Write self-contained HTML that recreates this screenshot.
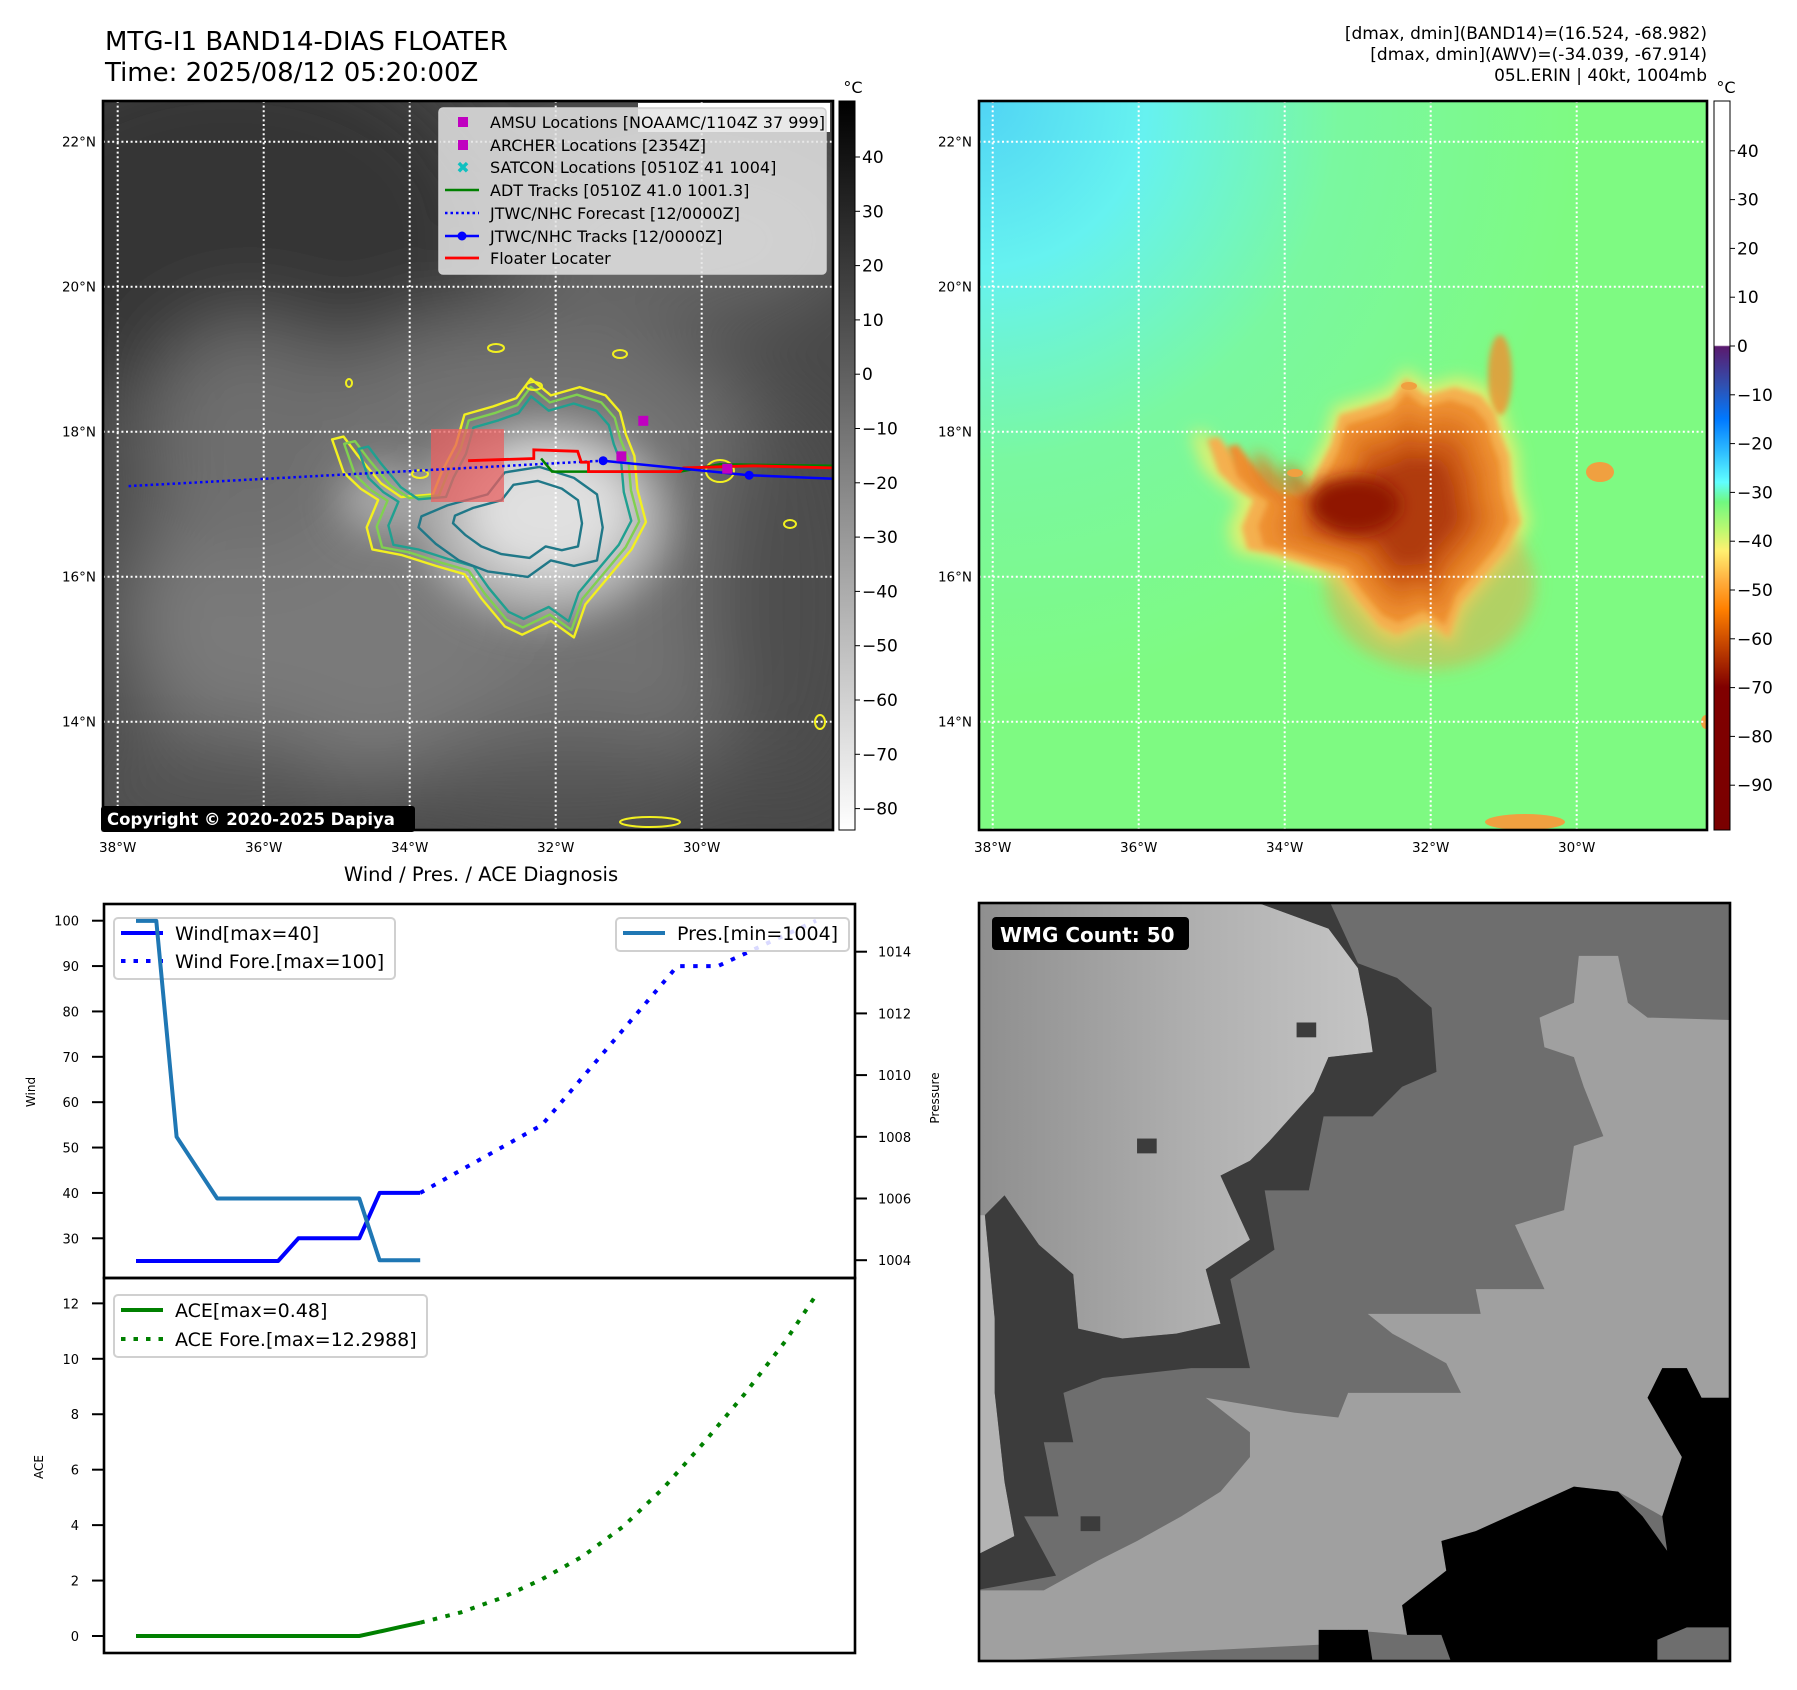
<!DOCTYPE html>
<html><head><meta charset="utf-8"><title>MTG-I1 BAND14 DIAS Floater</title>
<style>
html,body{margin:0;padding:0;background:#fff;}
svg{display:block;font-family:"DejaVu Sans","Liberation Sans",sans-serif;}
</style></head>
<body>
<svg id="fig" xmlns="http://www.w3.org/2000/svg" width="1797" height="1690" viewBox="0 0 1797 1690">
<defs>
  <filter id="b40" x="-50%" y="-50%" width="200%" height="200%"><feGaussianBlur stdDeviation="40"/></filter>
  <filter id="b20" x="-50%" y="-50%" width="200%" height="200%"><feGaussianBlur stdDeviation="20"/></filter>
  <filter id="b8" x="-50%" y="-50%" width="200%" height="200%"><feGaussianBlur stdDeviation="8"/></filter>
  <filter id="b3" x="-50%" y="-50%" width="200%" height="200%"><feGaussianBlur stdDeviation="3"/></filter>
  <clipPath id="clipMap1"><rect x="103" y="101" width="730" height="729"/></clipPath>
  <clipPath id="clipMap2"><rect x="979" y="101" width="728" height="729"/></clipPath>
  <clipPath id="clipWind"><rect x="104" y="904" width="751" height="374"/></clipPath>
  <clipPath id="clipAce"><rect x="104" y="1278" width="751" height="375"/></clipPath>
  <linearGradient id="cb1" x1="0" y1="0" x2="0" y2="1">
    <stop offset="0" stop-color="#000"/><stop offset="1" stop-color="#fff"/>
  </linearGradient>
  <linearGradient id="cb2" x1="0" y1="0" x2="0" y2="1">
    <stop offset="0" stop-color="#fff"/><stop offset="0.335" stop-color="#fff"/>
    <stop offset="0.337" stop-color="#5a1a6e"/><stop offset="0.39" stop-color="#3050b0"/>
    <stop offset="0.436" stop-color="#0078ff"/><stop offset="0.483" stop-color="#30c0ff"/>
    <stop offset="0.523" stop-color="#60ffff"/><stop offset="0.55" stop-color="#70f880"/>
    <stop offset="0.59" stop-color="#c0f870"/><stop offset="0.617" stop-color="#fff070"/>
    <stop offset="0.657" stop-color="#ffb040"/><stop offset="0.697" stop-color="#ff8000"/>
    <stop offset="0.75" stop-color="#c04000"/><stop offset="0.804" stop-color="#800000"/>
    <stop offset="1" stop-color="#7a0000"/>
  </linearGradient>
  <radialGradient id="m2bg" cx="979" cy="101" r="600" gradientUnits="userSpaceOnUse">
    <stop offset="0" stop-color="#50d4f4"/><stop offset="0.28" stop-color="#66f2f0"/>
    <stop offset="0.6" stop-color="#7af8a0"/><stop offset="1" stop-color="#7efa82"/>
  </radialGradient>
  <linearGradient id="wmgLight" x1="0" y1="0" x2="1" y2="0">
    <stop offset="0" stop-color="#8e8e8e"/><stop offset="0.55" stop-color="#b0b0b0"/><stop offset="1" stop-color="#c6c6c6"/>
  </linearGradient>
</defs>

<rect x="0" y="0" width="1797" height="1690" fill="#fff"/>

<text x="105" y="50" font-size="26" fill="#000">MTG-I1 BAND14-DIAS FLOATER</text>
<text x="105" y="81" font-size="26" fill="#000">Time: 2025/08/12 05:20:00Z</text>
<g font-size="17" text-anchor="end" fill="#000">
  <text x="1707" y="39">[dmax, dmin](BAND14)=(16.524, -68.982)</text>
  <text x="1707" y="60">[dmax, dmin](AWV)=(-34.039, -67.914)</text>
  <text x="1707" y="81">05L.ERIN | 40kt, 1004mb</text>
</g>

<!-- MAP 1 -->
<g id="map1" clip-path="url(#clipMap1)">
  <rect x="103" y="101" width="730" height="729" fill="#484848"/>
  <g filter="url(#b40)">
    <ellipse cx="230" cy="230" rx="260" ry="190" fill="#363636"/>
    <ellipse cx="680" cy="240" rx="170" ry="80" fill="#666"/>
    <ellipse cx="520" cy="560" rx="300" ry="250" fill="#727272"/>
    <ellipse cx="320" cy="620" rx="200" ry="170" fill="#7a7a7a"/>
    <ellipse cx="250" cy="440" rx="110" ry="120" fill="#6e6e6e"/>
    <ellipse cx="790" cy="600" rx="80" ry="210" fill="#4e4e4e"/>
    <ellipse cx="200" cy="790" rx="150" ry="60" fill="#525252"/>
    <ellipse cx="560" cy="780" rx="160" ry="50" fill="#565656"/>
  </g>
  <g filter="url(#b20)">
    <ellipse cx="545" cy="520" rx="125" ry="100" fill="#b4b4b4"/>
    <ellipse cx="548" cy="512" rx="80" ry="62" fill="#e0e0e0"/>
    <ellipse cx="380" cy="500" rx="40" ry="35" fill="#a8a8a8"/>
  </g>
  <g id="map1grid"></g>
  <g id="map1contours"></g>
  <rect x="431" y="429" width="73" height="73" fill="#e86060" fill-opacity="0.75"/>
  <g id="map1tracks"></g>
</g>
<rect x="103" y="101" width="730" height="729" fill="none" stroke="#000" stroke-width="2.6"/>
<g id="map1ticks" font-size="13.5" fill="#000"></g>

<rect x="638" y="103" width="192" height="29" fill="#fff"/>
<g>
  <rect x="439" y="108" width="387" height="166" rx="4" fill="#e4e4e4" fill-opacity="0.85" stroke="#cfcfcf" stroke-width="1.5"/>
  <g font-size="16" fill="#000">
    <rect x="458" y="117" width="10" height="10" fill="#c000c0"/>
    <text x="490" y="128">AMSU Locations [NOAAMC/1104Z 37 999]</text>
    <rect x="458" y="140" width="10" height="10" fill="#c000c0"/>
    <text x="490" y="151">ARCHER Locations [2354Z]</text>
    <text x="463" y="173" font-size="16" font-weight="bold" fill="#10c0c0" text-anchor="middle">✖</text>
    <text x="490" y="173">SATCON Locations [0510Z 41 1004]</text>
    <line x1="445" y1="190" x2="479" y2="190" stroke="#008000" stroke-width="2.5"/>
    <text x="490" y="196">ADT Tracks [0510Z 41.0 1001.3]</text>
    <line x1="445" y1="213" x2="479" y2="213" stroke="#0000ff" stroke-width="2.5" stroke-dasharray="2.5 3"/>
    <text x="490" y="219">JTWC/NHC Forecast [12/0000Z]</text>
    <line x1="445" y1="236" x2="479" y2="236" stroke="#0000ff" stroke-width="2.5"/>
    <circle cx="462" cy="236" r="4.5" fill="#0000ff"/>
    <text x="490" y="242">JTWC/NHC Tracks [12/0000Z]</text>
    <line x1="445" y1="258" x2="479" y2="258" stroke="#ff0000" stroke-width="2.8"/>
    <text x="490" y="264">Floater Locater</text>
  </g>
</g>
<g>
  <rect x="101" y="806" width="314" height="26" rx="3" fill="#000"/>
  <text x="107" y="825" font-size="16.5" font-weight="bold" fill="#fff">Copyright © 2020-2025 Dapiya</text>
</g>

<rect x="839" y="101" width="16" height="729" fill="url(#cb1)" stroke="#000" stroke-width="1"/>
<text x="853" y="93" font-size="16" text-anchor="middle">°C</text>
<g id="cb1ticks" font-size="17" fill="#000"></g>

<!-- MAP 2 -->
<g id="map2" clip-path="url(#clipMap2)">
  <rect x="979" y="101" width="728" height="729" fill="url(#m2bg)"/>
  <g id="map2blob"></g>
  <g id="map2grid"></g>
</g>
<rect x="979" y="101" width="728" height="729" fill="none" stroke="#000" stroke-width="2.6"/>
<g id="map2ticks" font-size="13.5" fill="#000"></g>
<rect x="1714" y="101" width="16" height="729" fill="url(#cb2)" stroke="#000" stroke-width="1"/>
<text x="1726" y="93" font-size="16" text-anchor="middle">°C</text>
<g id="cb2ticks" font-size="17" fill="#000"></g>

<text x="481" y="881" font-size="19.5" text-anchor="middle">Wind / Pres. / ACE Diagnosis</text>
<g id="windAxes"></g>
<g id="aceAxes"></g>

<!-- WMG panel -->
<svg x="979" y="903" width="751" height="758" viewBox="8 8 1530 1535" preserveAspectRatio="none">
  <rect x="0" y="0" width="1600" height="1600" fill="#6e6e6e"/>
  <polygon fill="url(#wmgLight)" points="0,0 555,0 720,60 780,140 800,240 830,210 810,310 720,320 690,390 600,490 560,530 500,560 560,690 470,750 500,860 410,880 300,890 210,870 200,760 130,700 60,600 20,640 0,640"/>
  <polygon fill="#b4b4b4" points="0,640 20,640 40,850 40,1000 60,1180 80,1290 0,1330"/>
  <polygon fill="#a0a0a0" points="1230,115 1310,115 1330,210 1370,240 1540,245 1540,1010 1480,1010 1450,950 1400,950 1370,1010 1440,1130 1400,1250 1310,1200 1220,1190 1020,1280 950,1300 960,1360 870,1430 880,1490 760,1480 700,1510 0,1545 0,1400 140,1400 250,1340 330,1300 420,1250 500,1200 560,1130 560,1080 470,1010 650,1040 740,1050 760,1000 990,1000 960,940 850,880 800,840 1030,840 1020,790 1160,790 1100,660 1200,630 1220,500 1280,480 1240,380 1220,320 1160,300 1150,240 1220,210"/>
  <polygon fill="#000" points="950,1300 1020,1280 1220,1190 1310,1200 1360,1250 1410,1320 1400,1250 1440,1130 1370,1010 1400,950 1450,950 1480,1010 1540,1010 1540,1475 1450,1475 1390,1500 1390,1545 970,1545 950,1490 880,1490 870,1430 960,1360"/>
  <polygon fill="#000" points="700,1480 800,1480 810,1545 700,1545"/>
  <polygon fill="#3c3c3c" points="555,0 720,0 780,130 860,160 930,220 940,350 870,380 810,440 710,440 680,590 590,590 610,710 520,770 560,950 440,950 260,970 180,1000 200,1100 140,1100 170,1250 100,1250 165,1370 0,1400 0,1330 80,1290 60,1180 40,1000 40,850 20,640 60,600 130,700 200,760 210,870 300,890 410,880 500,860 470,750 560,690 500,560 560,530 600,490 690,390 720,320 810,310 800,240 780,140 720,60"/>
  <rect x="330" y="485" width="40" height="30" fill="#3c3c3c"/>
  <rect x="655" y="250" width="40" height="30" fill="#3c3c3c"/>
  <rect x="215" y="1250" width="40" height="30" fill="#3c3c3c"/>
</svg>
<rect x="979" y="903" width="751" height="758" fill="none" stroke="#000" stroke-width="2.6"/>
<g>
  <rect x="992" y="917" width="197" height="33" rx="4" fill="#000"/>
  <text x="1000" y="942" font-size="20" font-weight="bold" fill="#fff">WMG Count: 50</text>
</g>
</svg>

<script>
// ===== Chart data (Wind / Pres / ACE) =====
const obsHours = [0, 6, 12, 18, 24, 30, 36, 42, 48, 54, 60, 66, 72, 78, 84];
const windObs = [25, 25, 25, 25, 25, 25, 25, 25, 30, 30, 30, 30, 40, 40, 40];
const presObs = [1015, 1015, 1008, 1007, 1006, 1006, 1006, 1006, 1006, 1006, 1006, 1006, 1004, 1004, 1004];
const windForeHours = [84, 120, 160, 172, 201];
const windFore = [40, 55, 90, 90, 100];
const aceObs = [0, 0, 0, 0, 0, 0, 0, 0, 0, 0, 0, 0, 0.16, 0.32, 0.48];
const aceForeHours = [84, 96, 108, 120, 132, 144, 156, 168, 180, 192, 201];
const aceFore = [0.48, 0.85, 1.37, 2.05, 2.87, 3.95, 5.35, 7.0, 8.75, 10.65, 12.3];
const windTicks = [30, 40, 50, 60, 70, 80, 90, 100];
const presTicks = [1004, 1006, 1008, 1010, 1012, 1014];
const aceTicks = [0, 2, 4, 6, 8, 10, 12];
// ===== Map data =====
const latTicks = [22, 20, 18, 16, 14];
const lonTicks = [38, 36, 34, 32, 30];
const irCbTicks = [40, 30, 20, 10, 0, -10, -20, -30, -40, -50, -60, -70, -80];
const awvCbTicks = [40, 30, 20, 10, 0, -10, -20, -30, -40, -50, -60, -70, -80, -90];
const forecastLon = [37.85, 31.35];
const forecastLat = [17.25, 17.6];
const trackLon = [31.35, 29.35, 28.2];
const trackLat = [17.6, 17.4, 17.35];
const floaterLon = [33.2, 32.3, 32.3, 31.7, 31.65, 31.55, 31.55, 30.3, 30.25, 29.3, 28.2];
const floaterLat = [17.6, 17.63, 17.75, 17.73, 17.58, 17.58, 17.45, 17.45, 17.5, 17.53, 17.5];
const adtLon = [32.2, 32.05, 30.3, 29.75, 28.2];
const adtLat = [17.63, 17.45, 17.45, 17.55, 17.53];
const amsuLon = [30.8];
const amsuLat = [18.15];
const archerLon = [31.1, 29.65];
const archerLat = [17.66, 17.49];

const NS = 'http://www.w3.org/2000/svg';
function mk(tag, attrs, parent) {
  const el = document.createElementNS(NS, tag);
  for (const k in attrs) el.setAttribute(k, attrs[k]);
  parent.appendChild(el);
  return el;
}
function txt(s, attrs, parent) { const t = mk('text', attrs, parent); t.textContent = s; return t; }

const latY = lat => 141.7 + (22 - lat) * 72.5;
const lon1X = lon => 117.7 + (38 - lon) * 73;
const lon2X = lon => 992.7 + (38 - lon) * 73;
function fmtNeg(v) { return v < 0 ? '\u2212' + Math.abs(v) : String(v); }

function drawGrid(g, lonX, x0, x1, pfx) {
  latTicks.forEach(lat => {
    const l = mk('line', {x1: x0, x2: x1, y1: latY(lat), y2: latY(lat), stroke: '#fff', 'stroke-width': 2, 'stroke-dasharray': '2 2.6'}, g);
    
    
  });
  lonTicks.forEach(lon => {
    const l = mk('line', {x1: lonX(lon), x2: lonX(lon), y1: 101, y2: 830, stroke: '#fff', 'stroke-width': 2, 'stroke-dasharray': '2 2.6'}, g);
    
    
  });
}
function drawMapTicks(g, lonX, labelRight, pfx) {
  latTicks.forEach(lat => {
    const t = txt(lat + '°N', {x: labelRight, y: latY(lat) + 5, 'text-anchor': 'end'}, g);
    
    
  });
  lonTicks.forEach(lon => {
    const t = txt(lon + '°W', {x: lonX(lon), y: 852, 'text-anchor': 'middle'}, g);
    
    
  });
}
drawGrid(document.getElementById('map1grid'), lon1X, 103, 833, 'ir');
drawGrid(document.getElementById('map2grid'), lon2X, 979, 1707, 'awv');
drawMapTicks(document.getElementById('map1ticks'), lon1X, 96, 'ir');
drawMapTicks(document.getElementById('map2ticks'), lon2X, 972, 'awv');

const cb1Y = v => 157 + (40 - v) * 5.43;
const cb2Y = v => 346 - v * 4.88;
const cb1 = document.getElementById('cb1ticks');
irCbTicks.forEach(v => {
  mk('line', {x1: 855, x2: 860, y1: cb1Y(v), y2: cb1Y(v), stroke: '#000', 'stroke-width': 1}, cb1);
  const t = txt(fmtNeg(v), {x: 862, y: cb1Y(v) + 6}, cb1);
  
  
});
const cb2 = document.getElementById('cb2ticks');
awvCbTicks.forEach(v => {
  mk('line', {x1: 1730, x2: 1735, y1: cb2Y(v), y2: cb2Y(v), stroke: '#000', 'stroke-width': 1}, cb2);
  const t = txt(fmtNeg(v), {x: 1737, y: cb2Y(v) + 6}, cb2);
  
  
});

const outerShape = [[580,800],[600,860],[630,890],[660,910],[640,960],[650,1000],[700,1010],[760,1030],[810,1045],[840,1090],[880,1140],[910,1155],[960,1130],[1000,1160],[1020,1100],[1060,1050],[1100,1000],[1125,950],[1110,890],[1105,830],[1090,790],[1080,750],[1055,720],[1010,705],[960,720],[925,690],[900,725],[860,740],[810,755],[795,810],[770,860],[755,900],[700,905],[665,880],[625,830],[600,795]];
const innerShape = [[735,940],[780,920],[850,900],[880,860],[940,850],[1000,870],[1040,900],[1050,960],[1040,1020],[1000,1030],[960,1020],[920,1050],[850,1040],[800,1020],[760,990],[730,960]];
const CX = 930, CY = 935;
function shapePts(shape, s, dx) {
  return shape.map(p => {
    const zx = CX + (p[0] - CX) * s, zy = CY + (p[1] - CY) * s;
    return (103 + (zx - 182) * 730 / 1268 + dx).toFixed(1) + ',' + (101 + (zy - 185) * 729 / 1325).toFixed(1);
  }).join(' ');
}
const c1 = document.getElementById('map1contours');
[[outerShape, 1.0, '#f2f020', 'ir-contour-yellow'], [outerShape, 0.94, '#80d050', 'ir-contour-green'], [outerShape, 0.87, '#20a090', 'ir-contour-teal'], [innerShape, 1.0, '#207888', 'ir-contour-darkteal'], [innerShape, 0.7, '#207888', 'ir-contour-core']].forEach(c => {
  const p = mk('polygon', {points: shapePts(c[0], c[1], 0), fill: 'none', stroke: c[2], 'stroke-width': 2.4, 'stroke-linejoin': 'round'}, c1);
  
  
});
[[420,474,8,4],[534,386,8,4],[790,524,6,4],[720,471,14,11],[650,822,30,5],[820,722,5,7],[496,348,8,4],[620,354,7,4],[349,383,3,4]].forEach(b => {
  const e = mk('ellipse', {cx: b[0], cy: b[1], rx: b[2], ry: b[3], fill: 'none', stroke: '#f2f020', 'stroke-width': 2}, c1);
  
  
});

const m2 = document.getElementById('map2blob');
const blobHalo = mk('polygon', {points: shapePts(outerShape, 1.08, 875), fill: '#e0f070', filter: 'url(#b8)'}, m2);


const south = mk('ellipse', {cx: 1430, cy: 585, rx: 105, ry: 85, fill: '#f0a040', 'fill-opacity': 0.45, filter: 'url(#b8)'}, m2);


const north = mk('ellipse', {cx: 1500, cy: 375, rx: 12, ry: 40, fill: '#f09030', 'fill-opacity': 0.8, filter: 'url(#b3)'}, m2);


[[1.0, '#f4b050', 'b3'], [0.9, '#ee9030', 'b3'], [0.78, '#e07820', 'b8'], [0.62, '#cc5a14', 'b8'], [0.45, '#b03a08', 'b8']].forEach((l, i) => {
  const p = mk('polygon', {points: shapePts(outerShape, l[0], 875), fill: l[1], filter: 'url(#' + l[2] + ')'}, m2);
  
  
});
const core2 = mk('ellipse', {cx: 1355, cy: 505, rx: 45, ry: 28, fill: '#901800', filter: 'url(#b8)'}, m2);


[[1295,473,8,4],[1409,386,8,4],[1600,472,14,10],[1525,822,40,8],[1706,722,5,7]].forEach(b => {
  const e = mk('ellipse', {cx: b[0], cy: b[1], rx: b[2], ry: b[3], fill: '#f0a040'}, m2);
  
  
});

const tg = document.getElementById('map1tracks');
function pts(lons, lats) { return lons.map((lo, i) => lon1X(lo).toFixed(1) + ',' + latY(lats[i]).toFixed(1)).join(' '); }
const fc = mk('polyline', {points: pts(forecastLon, forecastLat), fill: 'none', stroke: '#0000ff', 'stroke-width': 2.5, 'stroke-dasharray': '2.5 3'}, tg);


const adt = mk('polyline', {points: pts(adtLon, adtLat), fill: 'none', stroke: '#008000', 'stroke-width': 2.5}, tg);


const fl = mk('polyline', {points: pts(floaterLon, floaterLat), fill: 'none', stroke: '#ff0000', 'stroke-width': 2.8}, tg);


const tr = mk('polyline', {points: pts(trackLon, trackLat), fill: 'none', stroke: '#0000ff', 'stroke-width': 2.5}, tg);


trackLon.slice(0, 2).forEach((lo, i) => {
  const c = mk('circle', {cx: lon1X(lo), cy: latY(trackLat[i]), r: 4.5, fill: '#0000ff'}, tg);
  
  
});
amsuLon.forEach((lo, i) => {
  const r = mk('rect', {x: lon1X(lo) - 5, y: latY(amsuLat[i]) - 5, width: 10, height: 10, fill: '#c000c0'}, tg);
  
  
});
archerLon.forEach((lo, i) => {
  const r = mk('rect', {x: lon1X(lo) - 5, y: latY(archerLat[i]) - 5, width: 10, height: 10, fill: '#c000c0'}, tg);
  
  
});

// ---- Wind / Pres / ACE chart ----
const hx = h => 136 + h / 6 * 20.3;
const windY = v => 920.7 + (100 - v) * 4.537;
const presY = p => 951.7 + (1014 - p) * 30.85;
const aceY = a => 1636 - a * 27.72;
function line(xs, ys, fx, fy) { return xs.map((x, i) => fx(x).toFixed(1) + ',' + fy(ys[i]).toFixed(1)).join(' '); }

const wa = document.getElementById('windAxes');
const windClip = mk('g', {'clip-path': 'url(#clipWind)'}, wa);
const wl = mk('g', {}, windClip);


mk('rect', {x: 114, y: 918, width: 281, height: 61, rx: 4, fill: '#fff', 'fill-opacity': 0.85, stroke: '#d0d0d0', 'stroke-width': 2}, wl);
mk('line', {x1: 121, x2: 163, y1: 933, y2: 933, stroke: '#0000ff', 'stroke-width': 4}, wl);
mk('line', {x1: 121, x2: 163, y1: 961, y2: 961, stroke: '#0000ff', 'stroke-width': 4, 'stroke-dasharray': '4.5 8'}, wl);
const wlt1 = txt('Wind[max=40]', {x: 175, y: 940, 'font-size': 19}, wl);


const wlt2 = txt('Wind Fore.[max=100]', {x: 175, y: 968, 'font-size': 19}, wl);



const wObs = mk('polyline', {points: line(obsHours, windObs, hx, windY), fill: 'none', stroke: '#0000ff', 'stroke-width': 4, 'stroke-linejoin': 'round'}, windClip);


const wFore = mk('polyline', {points: line(windForeHours, windFore, hx, windY), fill: 'none', stroke: '#0000ff', 'stroke-width': 4, 'stroke-dasharray': '4.5 8.5'}, windClip);


const pLine = mk('polyline', {points: line(obsHours, presObs, hx, presY), fill: 'none', stroke: '#1f77b4', 'stroke-width': 4, 'stroke-linejoin': 'round'}, windClip);


const pl = mk('g', {}, wa);


mk('rect', {x: 616, y: 918, width: 233, height: 33, rx: 4, fill: '#fff', 'fill-opacity': 0.85, stroke: '#d0d0d0', 'stroke-width': 2}, pl);
mk('line', {x1: 623, x2: 665, y1: 933, y2: 933, stroke: '#1f77b4', 'stroke-width': 4}, pl);
const plt = txt('Pres.[min=1004]', {x: 677, y: 940, 'font-size': 19}, pl);



windTicks.forEach(v => {
  mk('line', {x1: 92, x2: 104, y1: windY(v), y2: windY(v), stroke: '#000', 'stroke-width': 2}, wa);
  const t = txt(String(v), {x: 79, y: windY(v) + 5, 'font-size': 13, 'text-anchor': 'end'}, wa);
  
  
});
presTicks.forEach(v => {
  mk('line', {x1: 855, x2: 867, y1: presY(v), y2: presY(v), stroke: '#000', 'stroke-width': 2}, wa);
  const t = txt(String(v), {x: 878, y: presY(v) + 5, 'font-size': 13}, wa);
  
  
});
const wyl = txt('Wind', {x: 0, y: 0, 'font-size': 12, 'text-anchor': 'middle', transform: 'translate(35,1092) rotate(-90)'}, wa);


const pyl = txt('Pressure', {x: 0, y: 0, 'font-size': 12, 'text-anchor': 'middle', transform: 'translate(939,1098) rotate(-90)'}, wa);


const wf = mk('rect', {x: 104, y: 904, width: 751, height: 374, fill: 'none', stroke: '#000', 'stroke-width': 2.6}, wa);



const aa = document.getElementById('aceAxes');
const aceClip = mk('g', {'clip-path': 'url(#clipAce)'}, aa);
const aObs = mk('polyline', {points: line(obsHours, aceObs, hx, aceY), fill: 'none', stroke: '#008000', 'stroke-width': 4}, aceClip);


const aFore = mk('polyline', {points: line(aceForeHours, aceFore, hx, aceY), fill: 'none', stroke: '#008000', 'stroke-width': 4, 'stroke-dasharray': '4.5 8.5'}, aceClip);


const al = mk('g', {}, aa);


mk('rect', {x: 114, y: 1295, width: 313, height: 62, rx: 4, fill: '#fff', 'fill-opacity': 0.85, stroke: '#d0d0d0', 'stroke-width': 2}, al);
mk('line', {x1: 121, x2: 163, y1: 1310, y2: 1310, stroke: '#008000', 'stroke-width': 4}, al);
mk('line', {x1: 121, x2: 163, y1: 1339, y2: 1339, stroke: '#008000', 'stroke-width': 4, 'stroke-dasharray': '4.5 8'}, al);
const alt1 = txt('ACE[max=0.48]', {x: 175, y: 1317, 'font-size': 19}, al);


const alt2 = txt('ACE Fore.[max=12.2988]', {x: 175, y: 1346, 'font-size': 19}, al);


aceTicks.forEach(v => {
  mk('line', {x1: 92, x2: 104, y1: aceY(v), y2: aceY(v), stroke: '#000', 'stroke-width': 2}, aa);
  const t = txt(String(v), {x: 79, y: aceY(v) + 5, 'font-size': 13, 'text-anchor': 'end'}, aa);
  
  
});
const ayl = txt('ACE', {x: 0, y: 0, 'font-size': 12, 'text-anchor': 'middle', transform: 'translate(43,1467) rotate(-90)'}, aa);


const af = mk('rect', {x: 104, y: 1278, width: 751, height: 375, fill: 'none', stroke: '#000', 'stroke-width': 2.6}, aa);


</script>
</body></html>
